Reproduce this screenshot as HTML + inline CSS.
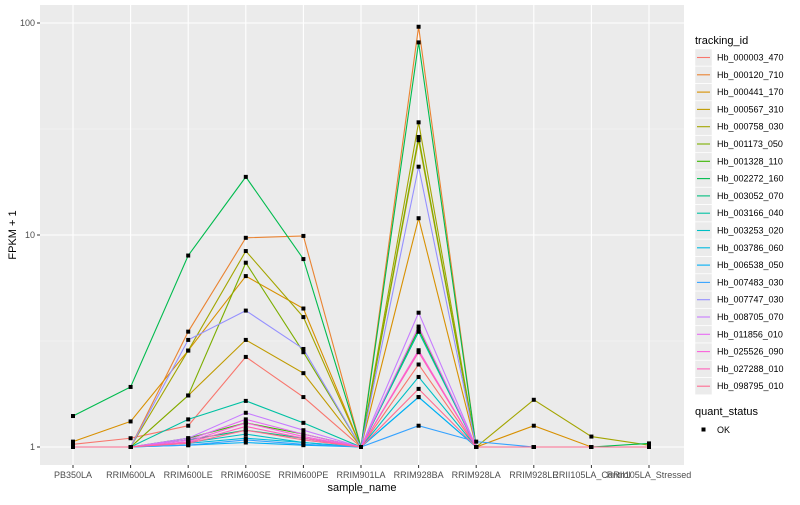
<!DOCTYPE html>
<html><head><meta charset="utf-8"><style>
body{margin:0;background:#fff;font-family:"Liberation Sans",sans-serif}
svg text{font-family:"Liberation Sans",sans-serif}
</style></head><body>
<svg id="chart" width="800" height="500" xmlns="http://www.w3.org/2000/svg">
<rect x="0" y="0" width="800" height="500" fill="#fff"/>
<rect x="40" y="5" width="644" height="460" fill="#EBEBEB"/>
<g id="grid"></g><g id="lines"></g><g id="axes"></g><g id="legend"></g>
</svg>
<script>
const categories=["PB350LA","RRIM600LA","RRIM600LE","RRIM600SE","RRIM600PE","RRIM901LA","RRIM928BA","RRIM928LA","RRIM928LE","RRII105LA_Control","RRII105LA_Stressed"];
const seriesNames=["Hb_000003_470","Hb_000120_710","Hb_000441_170","Hb_000567_310","Hb_000758_030","Hb_001173_050","Hb_001328_110","Hb_002272_160","Hb_003052_070","Hb_003166_040","Hb_003253_020","Hb_003786_060","Hb_006538_050","Hb_007483_030","Hb_007747_030","Hb_008705_070","Hb_011856_010","Hb_025526_090","Hb_027288_010","Hb_098795_010"];
const colors=["#F8766D","#EA8331","#D89000","#C09B00","#A3A500","#7CAE00","#39B600","#00BB4E","#00BF7D","#00C1A3","#00BFC4","#00BAE0","#00B0F6","#35A2FF","#9590FF","#C77CFF","#E76BF3","#FA62DB","#FF62BC","#FF6C91"];
const s01=[1.03,1.1,1.26,2.66,1.72,1,2.45,1,1,1,1];
const s02=[1.0,1.0,3.5,9.7,9.9,1,96,1,1,1,1];
const s03=[1.06,1.32,2.85,6.4,4.5,1,12,1,1.26,1,1];
const s04=[1,1,1.75,3.2,2.23,1,28,1,1,1,1];
const s05=[1,1,2.85,8.4,4.1,1,34,1,1.67,1.12,1.02];
const s06=[1,1,1.75,7.4,2.8,1,29,1,1,1,1];
const s07=[1,1,1.1,1.3,1.15,1,3.6,1,1,1,1];
const s08=[1.4,1.92,8,18.8,7.7,1,81,1,1,1,1.04];
const s09=[1,1,1.08,1.2,1.1,1,3.5,1,1,1,1];
const s10=[1,1,1.35,1.65,1.3,1,3.5,1,1,1,1];
const s11=[1,1,1.05,1.15,1.05,1,2.14,1,1,1,1];
const s12=[1,1,1.04,1.1,1.05,1,1.72,1,1,1,1];
const s13=[1,1,1.02,1.05,1.02,1,1.72,1,1,1,1];
const s14=[1,1,1.02,1.08,1.03,1,1.26,1.06,1,1,1];
const s15=[1,1,3.2,4.4,2.9,1,21,1,1,1,1];
const s16=[1,1,1.1,1.45,1.2,1,4.3,1,1,1,1];
const s17=[1,1,1.08,1.35,1.15,1,3.7,1,1,1,1];
const s18=[1,1,1.06,1.3,1.12,1,2.86,1,1,1,1];
const s19=[1,1,1.05,1.25,1.1,1,2.8,1,1,1,1];
const s20=[1,1,1.04,1.2,1.08,1,1.88,1,1,1,1];
const seriesValues=[s01,s02,s03,s04,s05,s06,s07,s08,s09,s10,s11,s12,s13,s14,s15,s16,s17,s18,s19,s20];
const yTicks=[1,10,100];
const yTickLabels=["1","10","100"];

const NS="http://www.w3.org/2000/svg";
function mk(tag,attrs,parent){const e=document.createElementNS(NS,tag);for(const k in attrs)e.setAttribute(k,attrs[k]);parent.appendChild(e);return e;}
const step=57.6, x0=73;
function xs(i){return x0+i*step;}
function ys(v){return 447-212*Math.log10(v);}
const grid=document.getElementById('grid'),lines=document.getElementById('lines'),axes=document.getElementById('axes'),legend=document.getElementById('legend');
// minor grid
[Math.sqrt(10),Math.sqrt(1000)].forEach(v=>{const l=mk('line',{x1:40,x2:684,y1:ys(v),y2:ys(v),stroke:'#F5F5F5','stroke-width':0.6},grid);});
yTicks.forEach((v,i)=>{
 const l=mk('line',{x1:40,x2:684,y1:ys(v),y2:ys(v),stroke:'#fff','stroke-width':1.1},grid);
 
 mk('line',{x1:37,x2:40,y1:ys(v),y2:ys(v),stroke:'#333'},axes);
 const t=mk('text',{x:35,y:ys(v)+3,'text-anchor':'end','font-size':9,fill:'#4D4D4D'},axes);t.textContent=yTickLabels[i];
 
});
categories.forEach((c,i)=>{
 const l=mk('line',{x1:xs(i),x2:xs(i),y1:5,y2:465,stroke:'#fff','stroke-width':1.1},grid);
 
 mk('line',{x1:xs(i),x2:xs(i),y1:465,y2:468,stroke:'#333'},axes);
 const t=mk('text',{x:xs(i),y:478,'text-anchor':'middle','font-size':9,fill:'#4D4D4D'},axes);t.textContent=c;
 
});
let t=mk('text',{x:362,y:491,'text-anchor':'middle','font-size':11,fill:'#000'},axes);t.textContent='sample_name';

t=mk('text',{x:16,y:235,'text-anchor':'middle','font-size':11,fill:'#000',transform:'rotate(-90 16 235)'},axes);t.textContent='FPKM + 1';


seriesValues.forEach((vals,si)=>{
 const p=mk('polyline',{points:vals.map((v,i)=>xs(i)+','+ys(v)).join(' '),fill:'none',stroke:colors[si],'stroke-width':1.1},lines);
 
 
});
seriesValues.forEach((vals,si)=>{
 vals.forEach((v,i)=>{
  const r=mk('rect',{x:xs(i)-2,y:ys(v)-2,width:4,height:4,fill:'#000'},lines);
  
  
 });
});
// legend
t=mk('text',{x:695,y:44,'font-size':11,fill:'#000'},legend);t.textContent='tracking_id';

seriesNames.forEach((n,i)=>{
 const y=57.5+i*17.3;
 const g=mk('g',{},legend);
 
 mk('rect',{x:695,y:y-8.5,width:17,height:17,fill:'#EBEBEB',stroke:'#fff','stroke-width':0.5},g);
 mk('line',{x1:697,x2:710,y1:y,y2:y,stroke:colors[i],'stroke-width':1.1},g);
 const tx=mk('text',{x:717,y:y+3,'font-size':9,fill:'#000'},g);tx.textContent=n;
});
t=mk('text',{x:695,y:415,'font-size':11,fill:'#000'},legend);t.textContent='quant_status';

const g=mk('g',{},legend);

mk('rect',{x:695,y:421,width:17,height:17,fill:'#fff'},g);
mk('rect',{x:701.5,y:427.5,width:4,height:4,fill:'#000'},g);
const tx=mk('text',{x:717,y:433,'font-size':9,fill:'#000'},g);tx.textContent='OK';
</script>
</body></html>
